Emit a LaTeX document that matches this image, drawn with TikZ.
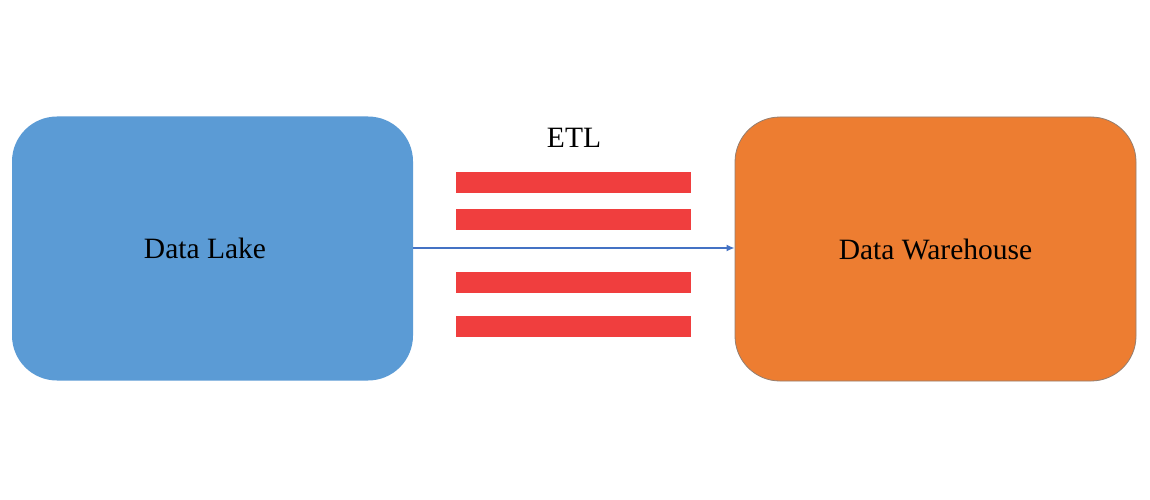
\documentclass[tikz,border=0pt]{standalone}
\usepackage{fontspec}
\setmainfont{Liberation Serif}
\usetikzlibrary{arrows.meta}
\definecolor{lakeblue}{HTML}{5B9BD5}
\definecolor{whorange}{HTML}{ED7D31}
\definecolor{etlred}{HTML}{F03E3E}
\definecolor{flowblue}{HTML}{4472C4}
\begin{document}
\begin{tikzpicture}[x=1pt,y=-1pt,
    store/.style={rounded corners=45pt,minimum width=401pt,minimum height=264pt,
      inner sep=0pt,font=\fontsize{29.5}{34}\selectfont},
    bar/.style={fill=etlred}]
  \useasboundingbox[fill=white] (0,0) rectangle (1150,500);

  \node[store,fill=lakeblue] (lake) at (212.5,248.5) {\hspace*{-15pt}Data Lake};
  \node[store,fill=whorange,draw=gray!80!whorange,line width=0.8pt] (warehouse) at (935.5,249) {Data Warehouse};

  \node[font=\fontsize{29.5}{34}\selectfont] (etl) at (574,138) {ETL};

  \foreach \y in {172,209,272,316}
    \path[bar] (456,\y) rectangle (691,\y+21);

  \draw[flowblue,line width=1.5pt,-{Latex[length=8pt,width=7pt]}] (lake.east |- 0,248) -- (warehouse.west |- 0,248);
\end{tikzpicture}
\end{document}
